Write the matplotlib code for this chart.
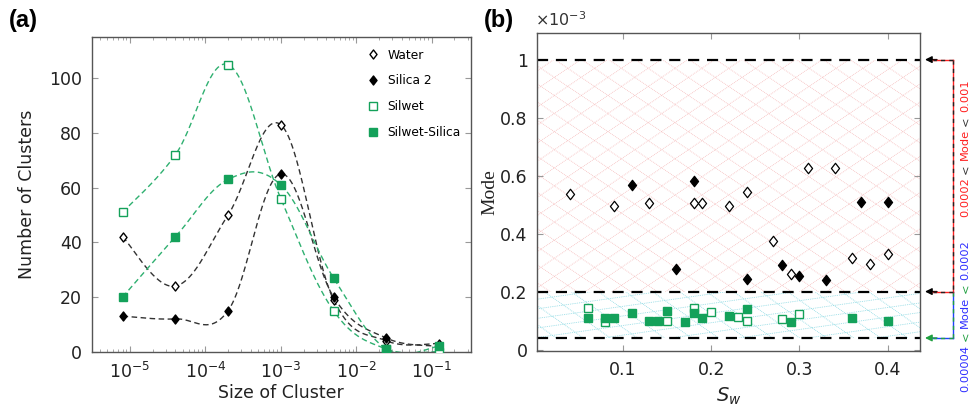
#!/usr/bin/env python3
"""
Cluster size distributions (a) and mode of cluster size vs S_w (b).

Curves in (a) are smooth Bezier curves (pgf-style tension) through the
measured points, computed in log10 x.
"""

import numpy as np
import matplotlib

matplotlib.use("Agg")
import matplotlib.pyplot as plt
from matplotlib.collections import LineCollection
from matplotlib.lines import Line2D
from matplotlib.patches import Rectangle
from matplotlib.path import Path
from matplotlib.ticker import LogLocator, FixedLocator
import matplotlib.transforms as mtransforms

# ---- panel (a): number of clusters vs size of cluster ----
cluster_size = [8e-6, 4e-5, 2e-4, 1e-3, 5e-3, 2.5e-2, 1.25e-1]
n_water = [42, 24, 50, 83, 19, 4, 3]
n_silica2 = [13, 12, 15, 65, 20, 5, 2]
n_silwet = [51, 72, 105, 56, 15, 1, 0]
n_silwet_silica = [20, 42, 63, 61, 27, 1, 2]

# ---- panel (b): mode (units of 1e-3) vs S_w ----
sw_water = [0.04, 0.09, 0.13, 0.18, 0.19, 0.22, 0.24, 0.27, 0.29, 0.31, 0.34, 0.36, 0.38, 0.40]
mode_water = [0.535, 0.495, 0.505, 0.505, 0.505, 0.495, 0.545, 0.375, 0.26, 0.625, 0.625, 0.315, 0.295, 0.33]

sw_silica2 = [0.11, 0.16, 0.18, 0.24, 0.28, 0.30, 0.33, 0.37, 0.40]
mode_silica2 = [0.567, 0.278, 0.581, 0.244, 0.293, 0.254, 0.24, 0.51, 0.51]

sw_silwet = [0.06, 0.08, 0.15, 0.18, 0.20, 0.23, 0.24, 0.28, 0.30]
mode_silwet = [0.143, 0.096, 0.098, 0.145, 0.13, 0.111, 0.098, 0.105, 0.122]

sw_silwet_silica = [0.06, 0.08, 0.09, 0.11, 0.13, 0.14, 0.15, 0.17, 0.18, 0.19, 0.22, 0.24, 0.29, 0.36, 0.40]
mode_silwet_silica = [0.109, 0.109, 0.109, 0.125, 0.098, 0.098, 0.132, 0.096, 0.125, 0.109, 0.117, 0.139, 0.095, 0.109, 0.098]

mode_bounds = [1.0, 0.2, 0.04]  # 0.001, 0.0002, 0.00004

GREEN = "#14a15a"
GREEN_LINE = "#2fb070"
DARK = "#333333"
SPINE = "#555555"

DIAMOND = Path([(0, 1), (0.78, 0), (0, -1), (-0.78, 0), (0, 1)],
               [Path.MOVETO, Path.LINETO, Path.LINETO, Path.LINETO, Path.CLOSEPOLY])


def smooth_curve(xk, yk, tension=0.55, npts=60):
    """Bezier curve through the points, control vectors ~ tension/3 * (p[i+1]-p[i-1])."""
    p = np.column_stack([xk, yk]).astype(float)
    n = len(p)
    k = tension / 3.0
    out = []
    for i in range(n - 1):
        prev_ = p[i - 1] if i > 0 else p[i]
        next2 = p[i + 2] if i + 2 < n else p[i + 1]
        c1 = p[i] + k * (p[i + 1] - prev_)
        c2 = p[i + 1] - k * (next2 - p[i])
        t = np.linspace(0, 1, npts)[:, None]
        seg = ((1 - t) ** 3 * p[i] + 3 * (1 - t) ** 2 * t * c1
               + 3 * (1 - t) * t ** 2 * c2 + t ** 3 * p[i + 1])
        out.append(seg if i == 0 else seg[1:])
    out = np.vstack(out)
    return out[:, 0], out[:, 1]


def style_axes(ax):
    for s in ax.spines.values():
        s.set_color(SPINE)
        s.set_linewidth(1.0)
    ax.tick_params(which="both", direction="in", top=True, right=True,
                   color="#999999", labelsize=12.5, labelcolor="#222222")
    ax.tick_params(which="major", length=4.5, width=0.8, pad=7)
    ax.tick_params(which="minor", length=2.5, width=0.6)


def hatch_band(ax, y0, y1, families, color, ax_px):
    """Draw dotted crossing lines clipped to the band y0..y1 (data)."""
    W, H = ax_px
    D = np.hypot(W, H)
    x0, x1 = ax.get_xlim()
    for ang, spacing, phase in families:
        t = np.deg2rad(ang)
        u = np.array([np.cos(t), np.sin(t)])
        nv = np.array([-np.sin(t), np.cos(t)])
        ctr = np.array([W / 2, H / 2])
        segs = []
        for c in np.arange(-D, D, spacing) + phase:
            p0 = c * nv - D * u + ctr
            p1 = c * nv + D * u + ctr
            segs.append([(p0[0] / W, p0[1] / H), (p1[0] / W, p1[1] / H)])
        lc = LineCollection(segs, colors=color, linewidths=0.6, linestyles=(0, (1, 1.2)),
                            transform=ax.transAxes, zorder=1)
        ax.add_collection(lc, autolim=False)
        lc.set_clip_path(Rectangle((x0, y0), x1 - x0, y1 - y0, transform=ax.transData))


def panel_a(fig):
    ax = fig.add_axes([0.0944, 0.1484, 0.3906, 0.7613])
    lx = np.log10(cluster_size)
    series = [
        (n_water, DARK, dict(marker=DIAMOND, mfc="white", mec="black", ms=6.5), "Water"),
        (n_silica2, DARK, dict(marker=DIAMOND, mfc="black", mec="black", ms=6.5), "Silica 2"),
        (n_silwet, GREEN_LINE, dict(marker="s", mfc="white", mec=GREEN, ms=5.2), "Silwet"),
        (n_silwet_silica, GREEN_LINE, dict(marker="s", mfc=GREEN, mec=GREEN, ms=5.2), "Silwet-Silica"),
    ]
    for yv, lc, mk, lab in series:
        cx, cy = smooth_curve(lx, yv)
        ax.plot(10 ** cx, cy, ls=(0, (4, 2.5)), lw=1.0, color=lc, zorder=2)
    for yv, lc, mk, lab in series:
        ax.plot(cluster_size, yv, ls="none", mew=1.0, label=lab, zorder=3, **mk)

    ax.set_xscale("log")
    ax.set_xlim(10 ** -5.507, 10 ** -0.48)
    ax.set_ylim(0, 115)
    ax.xaxis.set_major_locator(LogLocator(base=10, numticks=10))
    ax.xaxis.set_minor_locator(LogLocator(base=10, subs=np.arange(2, 10), numticks=20))
    ax.set_yticks([0, 20, 40, 60, 80, 100])
    style_axes(ax)
    ax.set_xlabel("Size of Cluster", fontsize=12.5, color="#222222", labelpad=2)
    ax.set_ylabel("Number of Clusters", fontsize=12.5, color="#222222", labelpad=9)

    ax.legend(loc="upper left", bbox_to_anchor=(0.70, 0.995), frameon=False, fontsize=8.8,
              handlelength=1.0, handletextpad=0.7, labelspacing=1.05, borderpad=0.3)
    fig.text(0.024, 0.95, "(a)", fontsize=17, fontweight="bold", family="Liberation Sans",
             ha="center", va="center")
    return ax


def panel_b(fig):
    ax = fig.add_axes([0.5534, 0.1501, 0.3941, 0.7688])
    ax.set_xlim(0.003, 0.4366)
    ax.set_ylim(-0.005, 1.09)
    ax_px = (0.3941 * fig.bbox.width, 0.7688 * fig.bbox.height)

    hatch_band(ax, mode_bounds[1], mode_bounds[0],
               [(34, 15.0, 0.0), (-34, 15.0, 0.0)], "#f6bcbc", ax_px)
    hatch_band(ax, mode_bounds[2], mode_bounds[1],
               [(8, 9.5, 0.0), (-35, 15.5, 0.0)], "#8ad9e3", ax_px)

    for yb in mode_bounds:
        ax.axhline(yb, color="black", lw=1.6, ls=(0, (5, 3.5)), zorder=2)

    ax.plot(sw_water, mode_water, ls="none", marker=DIAMOND, ms=7.5, mfc="white", mec="black", mew=0.9, zorder=3)
    ax.plot(sw_silica2, mode_silica2, ls="none", marker=DIAMOND, ms=7.5, mfc="black", mec="black", mew=0.9, zorder=3)
    ax.plot(sw_silwet, mode_silwet, ls="none", marker="s", ms=5.6, mfc="white", mec=GREEN, mew=1.0, zorder=3)
    ax.plot(sw_silwet_silica, mode_silwet_silica, ls="none", marker="s", ms=5.6, mfc=GREEN, mec=GREEN, mew=1.0, zorder=4)

    ax.xaxis.set_major_locator(FixedLocator([0.1, 0.2, 0.3, 0.4]))
    ax.set_yticks([0, 0.2, 0.4, 0.6, 0.8, 1.0])
    ax.set_yticklabels(["0", "0.2", "0.4", "0.6", "0.8", "1"])
    style_axes(ax)
    ax.set_xlabel(r"$S_w$", fontsize=14, color="#222222", labelpad=5)
    ax.set_ylabel("Mode", fontsize=14, family="Liberation Serif", color="#222222", labelpad=1)
    ax.text(-0.005, 1.045, r"$\times10^{-3}$", transform=ax.transAxes, fontsize=11.5,
            color="#333333", ha="left", va="center")
    fig.text(0.514, 0.95, "(b)", fontsize=17, fontweight="bold", family="Liberation Sans",
             ha="center", va="center")

    # right-hand range markers
    W = fig.bbox.width
    blend = mtransforms.blended_transform_factory(fig.transFigure, ax.transData)
    xv = 953 / W
    xt = 925 / W
    segs = [
        # (x0, y0, x1, y1, base colour, dash colour)
        (xv, mode_bounds[0], xv, mode_bounds[1], "#ff2020", "#222222"),
        (xv, mode_bounds[1], xv, mode_bounds[2], "#2040ff", "#20a040"),
        (xv, mode_bounds[0], xt + 8 / W, mode_bounds[0], "#ff2020", "#222222"),
        (xv, mode_bounds[1], xt + 8 / W, mode_bounds[1], "#ff2020", "#222222"),
        (xv, mode_bounds[2], xt + 8 / W, mode_bounds[2], "#2040ff", "#20a040"),
    ]
    for x0, y0, x1, y1, c0, c1 in segs:
        fig.add_artist(Line2D([x0, x1], [y0, y1], transform=blend, color=c0, lw=1.0))
        fig.add_artist(Line2D([x0, x1], [y0, y1], transform=blend, color=c1, lw=1.0, ls=(0, (3, 3))))
    for yb, hc in zip(mode_bounds, ["black", "black", "#20a040"]):
        ax.annotate("", xy=(xt, yb), xycoords=blend, xytext=(xt + 12 / W, yb), textcoords=blend,
                    arrowprops=dict(arrowstyle="-|>", color=hc, lw=1.0, shrinkA=0, shrinkB=0,
                                    mutation_scale=10),
                    annotation_clip=False)
    return ax


def stacked_vertical_text(fig, x_px, y_bottom_px, pieces, size):
    """Rotated multicolour text, read bottom to top."""
    renderer = fig.canvas.get_renderer()
    H = fig.bbox.height
    y = y_bottom_px
    gap = size * 100 / 72 * 0.32
    for txt, col in pieces:
        t = fig.text(x_px / fig.bbox.width, 1 - y / H, txt, rotation=90, color=col,
                     fontsize=size, ha="center", va="bottom", family="DejaVu Sans")
        bb = t.get_window_extent(renderer)
        y = H - bb.y1 - gap


def main():
    plt.rcParams["mathtext.fontset"] = "dejavusans"
    fig = plt.figure(figsize=(9.71, 4.13), dpi=100)
    panel_a(fig)
    panel_b(fig)

    red, blue, green = "#ff2020", "#3030ff", "#20a040"
    stacked_vertical_text(fig, 965, 217, [("0.0002", red), ("<", "#333333"), ("Mode", red),
                                          ("<", "#333333"), ("0.001", red)], 8.2)
    stacked_vertical_text(fig, 965, 392, [("0.00004", blue), ("<", green), ("Mode", blue),
                                          ("<", green), ("0.0002", blue)], 8.2)

    fig.savefig("out.png", dpi=100)


if __name__ == "__main__":
    main()
